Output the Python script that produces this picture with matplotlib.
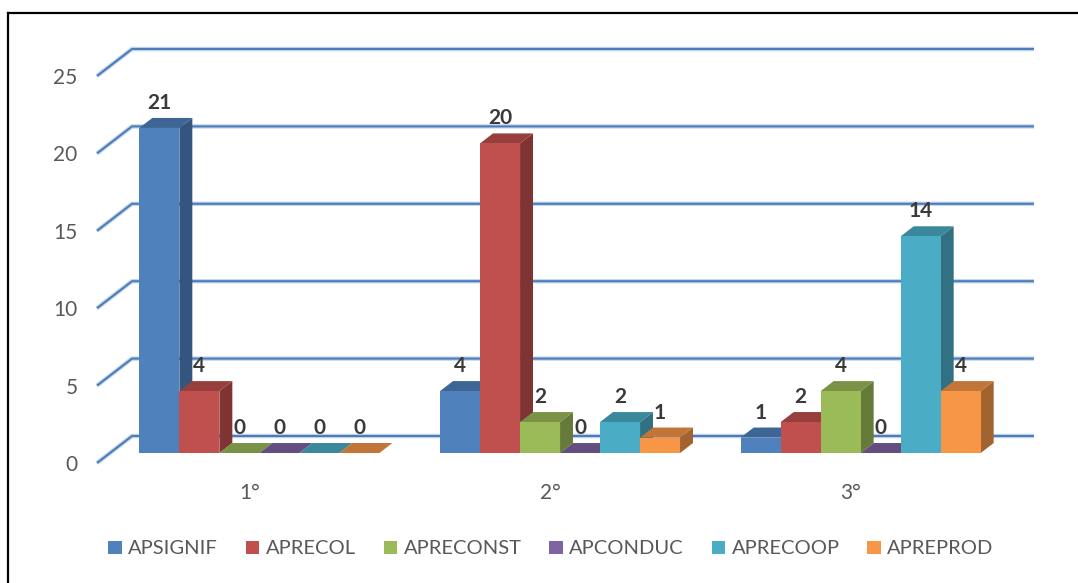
import matplotlib
matplotlib.use("Agg")
import matplotlib.pyplot as plt
from matplotlib.patches import Polygon, Rectangle
from matplotlib.lines import Line2D

# ---------------- data ----------------
categories = ["1°", "2°", "3°"]
series_names = ["APSIGNIF", "APRECOL", "APRECONST", "APCONDUC", "APRECOOP", "APREPROD"]
apsignif = [21, 4, 1]
aprecol = [4, 20, 2]
apreconst = [0, 2, 4]
apconduc = [0, 0, 0]
aprecoop = [0, 2, 14]
apreprod = [0, 1, 4]
y_ticks = [0, 5, 10, 15, 20, 25]

series_values = [apsignif, aprecol, apreconst, apconduc, aprecoop, apreprod]
front_colors = ["#4F81BD", "#C0504D", "#9BBB59", "#8064A2", "#4BACC6", "#F79646"]
side_colors = ["#34557D", "#7F3433", "#667B3A", "#54426B", "#317183", "#A36330"]
top_colors = ["#3D6595", "#963F3C", "#799245", "#644E7F", "#3B879B", "#C17536"]

plt.rcParams['font.family'] = ['Lato', 'DejaVu Sans']
TEXT = "#595959"

W, H = 1078, 583
fig = plt.figure(figsize=(W / 100, H / 100), dpi=100)
ax_l, ax_b, ax_w, ax_h = 97, 120, 902, 387
ax = fig.add_axes([ax_l / W, ax_b / H, ax_w / W, ax_h / H])
ax.set_xlim(-0.5, 2.5)
ax.set_ylim(0, 25)
for s in ax.spines.values():
    s.set_visible(False)
ax.patch.set_visible(False)

# oblique depth offsets (full depth) converted to data units
DX = 35 / (ax_w / 3)
DY = 27 / (ax_h / 25)
d0, d1 = 0.37, 0.74
bw = 40 / (ax_w / 3)

# gridlines (front diagonal + back wall)
for t in y_ticks:
    xs = [-0.5, -0.5 + DX, 2.5 + DX]
    ys = [t, t + DY, t + DY]
    ax.plot(xs, ys, color="#C6D5EA", lw=3.2, zorder=1, clip_on=False, solid_capstyle='butt')
    ax.plot(xs, ys, color="#4A7EBB", lw=1.5, zorder=1.1, clip_on=False, solid_capstyle='butt')

# 3D-looking bars
n = len(series_values)
for j, vals in enumerate(series_values):
    for i, v in enumerate(vals):
        xc = i + (j - (n - 1) / 2) * bw - 0.003
        x0, x1 = xc - bw / 2, xc + bw / 2
        z = 2 + j * 0.1
        fx0, fx1 = x0 + d0 * DX, x1 + d0 * DX
        fy0, fy1 = d0 * DY, v + d0 * DY
        bx1 = x1 + d1 * DX
        by0, by1 = d1 * DY, v + d1 * DY
        bx0 = x0 + d1 * DX
        if v > 0:
            side = Polygon([(fx1, fy0), (fx1, fy1), (bx1, by1), (bx1, by0)],
                           closed=True, fc=side_colors[j], ec='none', zorder=z, clip_on=False)
            ax.add_patch(side)
        top = Polygon([(fx0, fy1), (fx1, fy1), (bx1, by1), (bx0, by1)],
                      closed=True, fc=top_colors[j], ec='none', zorder=z + 0.01, clip_on=False)
        ax.add_patch(top)
        if v > 0:
            front = Rectangle((fx0, fy0), fx1 - fx0, fy1 - fy0, fc=front_colors[j],
                              ec='none', zorder=z + 0.02, clip_on=False)
            ax.add_patch(front)
        ax.annotate(str(v), xy=(xc + d0 * DX, v + d1 * DY), xytext=(0, 5),
                    textcoords='offset pixels', ha='center', va='bottom',
                    fontsize=15, fontweight='bold', color="#3A3A3A", zorder=5,
                    annotation_clip=False)

ax.set_yticks(y_ticks)
ax.set_yticklabels([str(t) for t in y_ticks])
ax.tick_params(axis='y', length=0, pad=14, labelsize=15, labelcolor=TEXT)
ax.set_xticks([])

# category labels below the floor
for i, c in enumerate(categories):
    ax.annotate(c, xy=(i, 0), xytext=(2, -30), textcoords='offset pixels',
                ha='center', va='center', fontsize=15, color=TEXT, annotation_clip=False)

handles = [Rectangle((0, 0), 1, 1, fc=c, ec='none') for c in front_colors]
fig.legend(handles, series_names, loc='center', bbox_to_anchor=(551 / W, 1 - 549 / H),
           ncol=6, frameon=False, handlelength=0.67, handleheight=0.67,
           handletextpad=0.32, columnspacing=1.38, fontsize=14.5, labelcolor=TEXT)

# outer chart border (top and left edges visible)
fig.add_artist(Line2D([8 / W, 1.0], [1 - 13 / H, 1 - 13 / H], color='black', lw=1.6))
fig.add_artist(Line2D([8 / W, 8 / W], [1 - 13 / H, 0.0], color='black', lw=1.6))

fig.savefig("out.png", dpi=100)
